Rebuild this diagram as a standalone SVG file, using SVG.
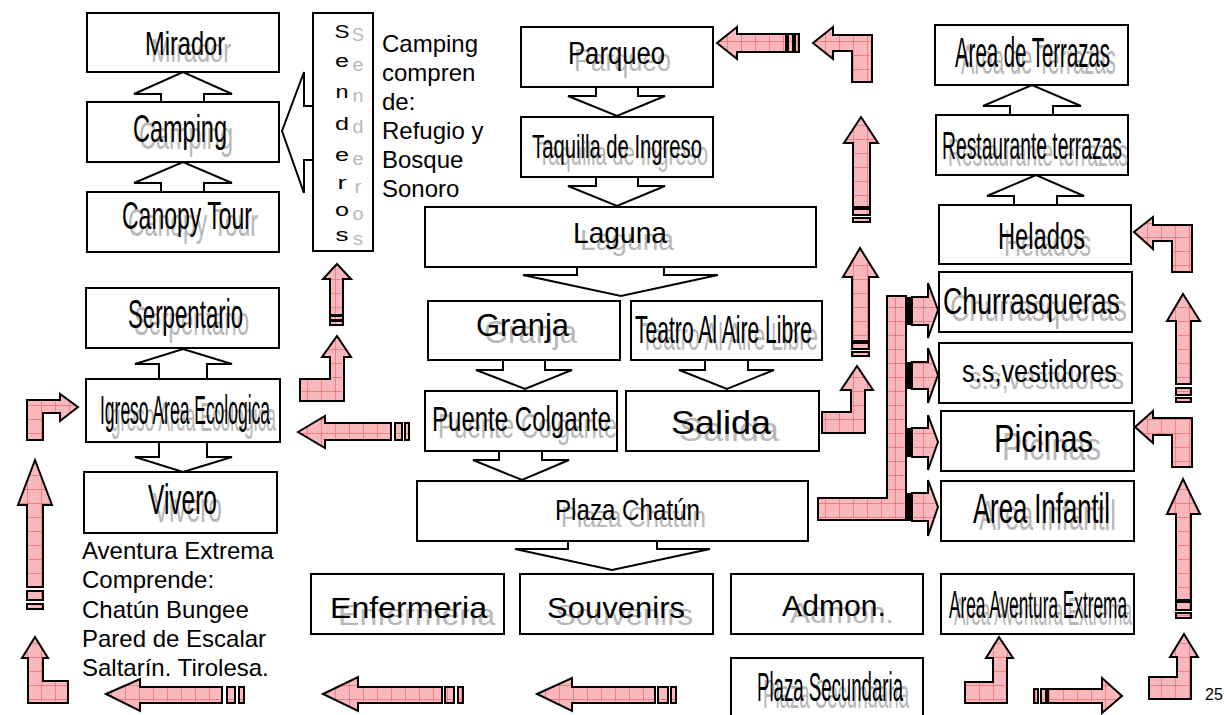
<svg xmlns="http://www.w3.org/2000/svg" width="1229" height="715" viewBox="0 0 1229 715">
<defs>
<pattern id="grid" patternUnits="userSpaceOnUse" width="14" height="14">
<rect width="14" height="14" fill="#f9b8bb"/>
<path d="M13.5 0V14M0 13.5H14" stroke="#f05a5e" stroke-width="0.6" fill="none"/>
</pattern>
<style>
.box{fill:#fff;stroke:#000;stroke-width:2}
.con{fill:#fff;stroke:#000;stroke-width:2;stroke-linejoin:miter}
.pk{fill:url(#grid);stroke:#000;stroke-width:2;stroke-linejoin:miter}
.bar{fill:#000}
text{font-family:"Liberation Sans",Arial,sans-serif}
.m{fill:#000}
.sh{fill:#b8b8b8}
.f{font-size:24px;fill:#000}
</style>
</defs>
<rect width="1229" height="715" fill="#fff"/>

<g id="connectors">
<polyline class="con" points="161,102 161,94 134,94 183,72 232,94 204,94 204,102"/>
<polyline class="con" points="161,192 161,183 134,183 183,162 232,183 204,183 204,192"/>
<polyline class="con" points="159,379 159,364 135,364 183,349 232,364 207,364 207,379"/>
<polyline class="con" points="1010,115 1010,106 983,106 1032,85 1081,106 1053,106 1053,115"/>
<polyline class="con" points="1014,205 1014,196 987,196 1036,175 1084,196 1057,196 1057,205"/>
<polyline class="con" points="596,87 596,96 568,96 617,116 665,96 638,96 638,87"/>
<polyline class="con" points="596,177 596,186 568,186 617,206 665,186 638,186 638,177"/>
<polyline class="con" points="577,267 577,275 523,275 621,296 718,275 664,275 664,267"/>
<polyline class="con" points="503,360 503,370 476,370 525,389 572,370 545,370 545,360"/>
<polyline class="con" points="705,360 705,370 679,370 727,389 774,370 748,370 748,360"/>
<polyline class="con" points="499,451 499,460 473,460 522,480 569,460 542,460 542,451"/>
<polyline class="con" points="568,541 568,549 515,549 612,570 710,549 657,549 657,541"/>
<polyline class="con" points="159,442 159,457 135,457 183,472 232,457 207,457 207,442"/>
<polyline class="con" points="313,106 304,106 304,72 282,131 304,193 304,160 313,160"/>

<polygon class="pk" points="717,43 737,27 737,34 786,34 786,52 737,52 737,59"/>
<rect class="pk" x="788" y="34" width="5" height="18"/>
<rect class="pk" x="795" y="34" width="4" height="18"/>
<polygon class="pk" points="813,43 833,27 833,35 872,35 872,82 852,82 852,51 833,51 833,59"/>
<polygon class="pk" points="861,117 878,143 870,143 870,207 853,207 853,143 844,143"/>
<rect class="pk" x="853" y="209" width="17" height="6"/>
<rect class="pk" x="853" y="218" width="17" height="4"/>
<polygon class="pk" points="860,248 878,277 869,277 869,341 852,341 852,277 843,277"/>
<rect class="pk" x="852" y="343" width="17" height="6"/>
<rect class="pk" x="852" y="352" width="17" height="4"/>
<polygon class="pk" points="857,366 873,390 865,390 865,433 822,433 822,412 851,412 851,390 841,390"/>

<polygon class="pk" points="818,498 887,498 887,296 906,296 906,520 818,520"/>
<rect class="bar" x="905" y="297" width="7" height="28"/>
<rect class="bar" x="905" y="362" width="7" height="27"/>
<rect class="bar" x="905" y="428" width="7" height="29"/>
<rect class="bar" x="905" y="493" width="7" height="28"/>
<polygon class="pk" points="912,297 928,297 928,283 938,310 928,338 928,325 912,325"/>
<polygon class="pk" points="912,362 928,362 928,348 938,375 928,403 928,389 912,389"/>
<polygon class="pk" points="912,428 928,428 928,415 938,442 928,470 928,457 912,457"/>
<polygon class="pk" points="912,493 928,493 928,480 938,507 928,536 928,521 912,521"/>

<polygon class="pk" points="1134,232 1153,217 1153,225 1192,225 1192,272 1172,272 1172,241 1153,241 1153,249"/>
<polygon class="pk" points="1183,294 1200,321 1191,321 1191,384 1176,384 1176,321 1167,321"/>
<rect class="pk" x="1176" y="388" width="15" height="7"/>
<rect class="pk" x="1176" y="398" width="15" height="4"/>
<polygon class="pk" points="1135,427 1153,411 1153,418 1192,418 1192,467 1172,467 1172,435 1153,435 1153,443"/>
<polygon class="pk" points="1183,479 1200,514 1191,514 1191,600 1176,600 1176,514 1167,514"/>
<rect class="pk" x="1176" y="602" width="15" height="8"/>
<rect class="pk" x="1176" y="613" width="15" height="5"/>
<polygon class="pk" points="1184,634 1198,657 1191,657 1191,699 1149,699 1149,677 1177,677 1177,657 1170,657"/>
<rect class="pk" x="1034" y="689" width="4" height="14"/>
<rect class="pk" x="1041" y="689" width="5" height="14"/>
<polygon class="pk" points="1048,689 1102,689 1102,678 1122,696 1102,713 1102,703 1048,703"/>
<polygon class="pk" points="999,637 1013,658 1007,658 1007,703 965,703 965,682 993,682 993,658 986,658"/>

<polygon class="pk" points="537,694 572,678 572,687 655,687 655,703 572,703 572,711"/>
<rect class="pk" x="658" y="687" width="10" height="16"/>
<rect class="pk" x="671" y="687" width="5" height="16"/>
<polygon class="pk" points="323,694 358,677 358,687 442,687 442,703 358,703 358,711"/>
<rect class="pk" x="445" y="687" width="9" height="16"/>
<rect class="pk" x="458" y="687" width="5" height="16"/>
<polygon class="pk" points="106,694 140,679 140,687 222,687 222,703 140,703 140,711"/>
<rect class="pk" x="227" y="687" width="8" height="16"/>
<rect class="pk" x="239" y="687" width="5" height="16"/>
<polygon class="pk" points="35,637 48,658 43,658 43,681 68,681 68,703 28,703 28,658 22,658"/>
<polygon class="pk" points="35,460 52,505 43,505 43,587 27,587 27,505 18,505"/>
<rect class="pk" x="27" y="591" width="16" height="9"/>
<rect class="pk" x="27" y="604" width="16" height="5"/>
<polygon class="pk" points="78,407 60,394 60,400 27,400 27,440 43,440 43,413 60,413 60,421"/>
<polygon class="pk" points="298,432 325,416 325,423 391,423 391,440 325,440 325,448"/>
<rect class="pk" x="395" y="423" width="7" height="17"/>
<rect class="pk" x="405" y="423" width="4" height="17"/>
<polygon class="pk" points="337,336 351,357 344,357 344,401 300,401 300,379 330,379 330,357 322,357"/>
<polygon class="pk" points="337,264 351,279 343,279 343,315 330,315 330,279 323,279"/>
<rect class="pk" x="330" y="316" width="13" height="4"/>
<rect class="pk" x="330" y="321" width="13" height="4"/>
</g>

<g id="mirador"><rect class="box" x="87" y="13" width="192" height="59"/>
<text class="sh" x="151" y="62" font-size="34" textLength="80" lengthAdjust="spacingAndGlyphs">Mirador</text>
<text class="m" x="145" y="55" font-size="34" textLength="80" lengthAdjust="spacingAndGlyphs">Mirador</text></g>
<g id="camping"><rect class="box" x="87" y="102" width="192" height="60"/>
<text class="sh" x="139" y="149" font-size="38" textLength="94" lengthAdjust="spacingAndGlyphs">Camping</text>
<text class="m" x="133" y="142" font-size="38" textLength="94" lengthAdjust="spacingAndGlyphs">Camping</text></g>
<g id="canopy"><rect class="box" x="87" y="192" width="192" height="60"/>
<text class="sh" x="128" y="236" font-size="39" textLength="130" lengthAdjust="spacingAndGlyphs">Canopy Tour</text>
<text class="m" x="122" y="229" font-size="39" textLength="130" lengthAdjust="spacingAndGlyphs">Canopy Tour</text></g>

<g id="senderos"><rect class="box" x="313" y="13" width="60" height="238"/>
<g font-size="18" text-anchor="middle" class="sh">
<text x="358" y="41" textLength="12" lengthAdjust="spacingAndGlyphs">S</text>
<text x="358" y="71" textLength="11" lengthAdjust="spacingAndGlyphs">e</text>
<text x="358" y="102" textLength="11" lengthAdjust="spacingAndGlyphs">n</text>
<text x="358" y="133" textLength="11" lengthAdjust="spacingAndGlyphs">d</text>
<text x="358" y="165" textLength="11" lengthAdjust="spacingAndGlyphs">e</text>
<text x="358" y="193" textLength="7" lengthAdjust="spacingAndGlyphs">r</text>
<text x="358" y="220" textLength="11" lengthAdjust="spacingAndGlyphs">o</text>
<text x="358" y="245" textLength="10" lengthAdjust="spacingAndGlyphs">s</text>
</g>
<g font-size="18" text-anchor="middle" class="m">
<text x="342" y="38" textLength="15" lengthAdjust="spacingAndGlyphs">S</text>
<text x="342" y="67" textLength="14" lengthAdjust="spacingAndGlyphs">e</text>
<text x="342" y="98" textLength="13" lengthAdjust="spacingAndGlyphs">n</text>
<text x="342" y="130" textLength="14" lengthAdjust="spacingAndGlyphs">d</text>
<text x="342" y="161" textLength="14" lengthAdjust="spacingAndGlyphs">e</text>
<text x="342" y="189" textLength="9" lengthAdjust="spacingAndGlyphs">r</text>
<text x="342" y="216" textLength="14" lengthAdjust="spacingAndGlyphs">o</text>
<text x="342" y="241" textLength="13" lengthAdjust="spacingAndGlyphs">s</text>
</g></g>

<g id="camping-note">
<text class="f" x="382" y="52">Camping</text>
<text class="f" x="382" y="81">compren</text>
<text class="f" x="382" y="110">de:</text>
<text class="f" x="382" y="139">Refugio y</text>
<text class="f" x="382" y="168">Bosque</text>
<text class="f" x="382" y="197">Sonoro</text>
</g>

<g id="parqueo"><rect class="box" x="521" y="27" width="192" height="60"/>
<text class="sh" x="574" y="71" font-size="31" textLength="97" lengthAdjust="spacingAndGlyphs">Parqueo</text>
<text class="m" x="568" y="64" font-size="31" textLength="97" lengthAdjust="spacingAndGlyphs">Parqueo</text></g>
<g id="taquilla"><rect class="box" x="521" y="117" width="192" height="60"/>
<text class="sh" x="538" y="165" font-size="33" textLength="170" lengthAdjust="spacingAndGlyphs">Taquilla de Ingreso</text>
<text class="m" x="532" y="158" font-size="33" textLength="170" lengthAdjust="spacingAndGlyphs">Taquilla de Ingreso</text></g>
<g id="laguna"><rect class="box" x="425" y="207" width="391" height="60"/>
<text class="sh" x="580" y="250" font-size="30" textLength="94" lengthAdjust="spacingAndGlyphs">Laguna</text>
<text class="m" x="573" y="243" font-size="30" textLength="94" lengthAdjust="spacingAndGlyphs">Laguna</text></g>
<g id="granja"><rect class="box" x="428" y="301" width="192" height="59"/>
<text class="sh" x="484" y="343" font-size="31" textLength="93" lengthAdjust="spacingAndGlyphs">Granja</text>
<text class="m" x="476" y="336" font-size="31" textLength="93" lengthAdjust="spacingAndGlyphs">Granja</text></g>
<g id="teatro"><rect class="box" x="631" y="301" width="191" height="59"/>
<text class="sh" x="641" y="350" font-size="38" textLength="177" lengthAdjust="spacingAndGlyphs">Teatro Al Aire Libre</text>
<text class="m" x="635" y="343" font-size="38" textLength="177" lengthAdjust="spacingAndGlyphs">Teatro Al Aire Libre</text></g>
<g id="puente"><rect class="box" x="425" y="391" width="192" height="60"/>
<text class="sh" x="438" y="438" font-size="35" textLength="179" lengthAdjust="spacingAndGlyphs">Puente Colgante</text>
<text class="m" x="432" y="431" font-size="35" textLength="179" lengthAdjust="spacingAndGlyphs">Puente Colgante</text></g>
<g id="salida"><rect class="box" x="626" y="391" width="193" height="60"/>
<text class="sh" x="679" y="441" font-size="34" textLength="100" lengthAdjust="spacingAndGlyphs">Salida</text>
<text class="m" x="671" y="434" font-size="34" textLength="100" lengthAdjust="spacingAndGlyphs">Salida</text></g>
<g id="plaza-chatun"><rect class="box" x="417" y="481" width="391" height="60"/>
<text class="sh" x="561" y="527" font-size="29" textLength="145" lengthAdjust="spacingAndGlyphs">Plaza Chatún</text>
<text class="m" x="555" y="520" font-size="29" textLength="145" lengthAdjust="spacingAndGlyphs">Plaza Chatún</text></g>

<g id="enfermeria"><rect class="box" x="311" y="574" width="193" height="60"/>
<text class="sh" x="338" y="625" font-size="29" textLength="157" lengthAdjust="spacingAndGlyphs">Enfermeria</text>
<text class="m" x="330" y="618" font-size="29" textLength="157" lengthAdjust="spacingAndGlyphs">Enfermeria</text></g>
<g id="souvenirs"><rect class="box" x="520" y="574" width="193" height="60"/>
<text class="sh" x="555" y="625" font-size="29" textLength="138" lengthAdjust="spacingAndGlyphs">Souvenirs</text>
<text class="m" x="547" y="618" font-size="29" textLength="138" lengthAdjust="spacingAndGlyphs">Souvenirs</text></g>
<g id="admon"><rect class="box" x="731" y="574" width="192" height="60"/>
<text class="sh" x="790" y="623" font-size="29" textLength="104" lengthAdjust="spacingAndGlyphs">Admon.</text>
<text class="m" x="782" y="616" font-size="29" textLength="104" lengthAdjust="spacingAndGlyphs">Admon.</text></g>
<g id="area-aventura"><rect class="box" x="941" y="574" width="193" height="60"/>
<text class="sh" x="954" y="625" font-size="38" textLength="178" lengthAdjust="spacingAndGlyphs">Area Aventura Extrema</text>
<text class="m" x="949" y="618" font-size="38" textLength="178" lengthAdjust="spacingAndGlyphs">Area Aventura Extrema</text></g>
<g id="plaza-secundaria"><rect class="box" x="731" y="658" width="192" height="62"/>
<text class="sh" x="763" y="708" font-size="40" textLength="146" lengthAdjust="spacingAndGlyphs">Plaza  Secundaria</text>
<text class="m" x="757" y="701" font-size="40" textLength="146" lengthAdjust="spacingAndGlyphs">Plaza  Secundaria</text></g>

<g id="area-terrazas"><rect class="box" x="935" y="25" width="193" height="60"/>
<text class="sh" x="961" y="74" font-size="42" textLength="155" lengthAdjust="spacingAndGlyphs">Area de Terrazas</text>
<text class="m" x="955" y="67" font-size="42" textLength="155" lengthAdjust="spacingAndGlyphs">Area de Terrazas</text></g>
<g id="restaurante"><rect class="box" x="936" y="115" width="192" height="60"/>
<text class="sh" x="948" y="166" font-size="38" textLength="180" lengthAdjust="spacingAndGlyphs">Restaurante terrazas</text>
<text class="m" x="942" y="159" font-size="38" textLength="180" lengthAdjust="spacingAndGlyphs">Restaurante terrazas</text></g>
<g id="helados"><rect class="box" x="939" y="205" width="192" height="59"/>
<text class="sh" x="1004" y="256" font-size="37" textLength="87" lengthAdjust="spacingAndGlyphs">Helados</text>
<text class="m" x="998" y="249" font-size="37" textLength="87" lengthAdjust="spacingAndGlyphs">Helados</text></g>
<g id="churrasqueras"><rect class="box" x="939" y="272" width="193" height="60"/>
<text class="sh" x="950" y="321" font-size="36" textLength="177" lengthAdjust="spacingAndGlyphs">Churrasqueras</text>
<text class="m" x="943" y="314" font-size="36" textLength="177" lengthAdjust="spacingAndGlyphs">Churrasqueras</text></g>
<g id="vestidores"><rect class="box" x="939" y="343" width="193" height="60"/>
<text class="sh" x="969" y="389" font-size="32" textLength="155" lengthAdjust="spacingAndGlyphs">s.s,vestidores</text>
<text class="m" x="962" y="382" font-size="32" textLength="155" lengthAdjust="spacingAndGlyphs">s.s,vestidores</text></g>
<g id="picinas"><rect class="box" x="941" y="411" width="193" height="60"/>
<text class="sh" x="1002" y="460" font-size="39" textLength="99" lengthAdjust="spacingAndGlyphs">Picinas</text>
<text class="m" x="994" y="452" font-size="39" textLength="99" lengthAdjust="spacingAndGlyphs">Picinas</text></g>
<g id="area-infantil"><rect class="box" x="941" y="481" width="193" height="60"/>
<text class="sh" x="979" y="530" font-size="42" textLength="137" lengthAdjust="spacingAndGlyphs">Area Infantil</text>
<text class="m" x="973" y="523" font-size="42" textLength="137" lengthAdjust="spacingAndGlyphs">Area Infantil</text></g>

<g id="serpentario"><rect class="box" x="86" y="288" width="193" height="60"/>
<text class="sh" x="134" y="335" font-size="40" textLength="115" lengthAdjust="spacingAndGlyphs">Serpentario</text>
<text class="m" x="128" y="328" font-size="40" textLength="115" lengthAdjust="spacingAndGlyphs">Serpentario</text></g>
<g id="igreso"><rect class="box" x="86" y="379" width="194" height="63"/>
<text class="sh" x="106" y="431" font-size="40" textLength="170" lengthAdjust="spacingAndGlyphs">Igreso Area Ecologica</text>
<text class="m" x="100" y="424" font-size="40" textLength="170" lengthAdjust="spacingAndGlyphs">Igreso Area Ecologica</text></g>
<g id="vivero"><rect class="box" x="84" y="472" width="193" height="61"/>
<text class="sh" x="153" y="522" font-size="42" textLength="69" lengthAdjust="spacingAndGlyphs">Vivero</text>
<text class="m" x="148" y="514" font-size="42" textLength="69" lengthAdjust="spacingAndGlyphs">Vivero</text></g>

<g id="aventura-note">
<text class="f" x="82" y="559" font-size="24.5">Aventura Extrema</text>
<text class="f" x="82" y="588" font-size="24.5">Comprende:</text>
<text class="f" x="82" y="618" font-size="24.5">Chatún Bungee</text>
<text class="f" x="82" y="647" font-size="24.5">Pared de Escalar</text>
<text class="f" x="82" y="676" font-size="24.5">Saltarín. Tirolesa.</text>
</g>
<text x="1205" y="700" font-size="16" fill="#000" style="font-family:'Liberation Sans',Arial,sans-serif">25</text>
</svg>
